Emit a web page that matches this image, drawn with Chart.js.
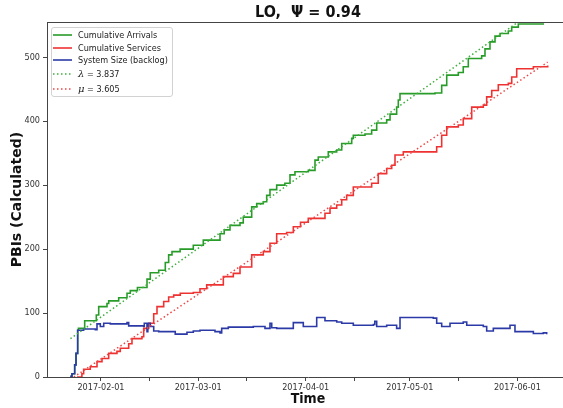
<!DOCTYPE html>
<html>
<head>
<meta charset="utf-8">
<script src="https://cdn.jsdelivr.net/npm/chart.js@4.4.1/dist/chart.umd.min.js"></script>
<style>
  html, body { margin: 0; padding: 0; overflow: hidden; background: #fff; }
  #wrap { position: relative; width: 572px; height: 408px; }
  #legend {
    position: absolute; left: 51px; top: 27px; width: 122px; height: 70px;
    box-sizing: border-box; border: 1px solid #d2d2d2; border-radius: 3px;
    background: rgba(255,255,255,0.85);
    font: 9px "DejaVu Sans Condensed", "DejaVu Sans", sans-serif; color: #222;
  }
  #legend .row { position: absolute; left: 0; height: 12px; width: 120px; }
  #legend svg { position: absolute; left: 1px; top: 0; }
  #legend .lbl { position: absolute; left: 26px; top: 0; line-height: 12px; white-space: nowrap; }
</style>
</head>
<body>
<div id="wrap">
  <canvas id="c"></canvas>
  <div id="legend"></div>
</div>
<script>
// Time is measured in days since 2017-01-01 (fractional days allowed).
const EPOCH = Date.UTC(2017, 0, 1);
const dayOf = s => (Date.parse(s + 'T00:00:00Z') - EPOCH) / 86400000;

// Axis ticks: half-monthly tick marks, labelled on the first of each month
const tickDates = ['2017-02-01', '2017-02-15', '2017-03-01', '2017-03-15', '2017-04-01',
                   '2017-04-15', '2017-05-01', '2017-05-15', '2017-06-01', '2017-06-15'];
const yTicks = [0, 100, 200, 300, 400, 500];

// Cumulative arrivals (step series)
const arrivalDays = [22.15, 22.64, 23.42, 23.8, 24.28, 24.5, 26.3, 29.65, 30.34, 32.73, 33.22, 36.1,
  38.5, 39.44, 41.5, 44.26, 45.2, 47.63, 49.53, 50.5, 51.46, 53.8, 57.6, 60.48, 65.3, 66.5, 68.18,
  71.06, 72.0, 74.43, 75.87, 77.77, 78.75, 79.7, 81.63, 84.0, 85.47, 86.9, 90.74, 92.67, 93.62,
  96.5, 98.93, 100.37, 103.25, 103.71, 107.08, 109.0, 110.45, 113.33, 114.3, 116.2, 116.68,
  117.17, 127.25, 129.18, 130.63, 133.97, 135.4, 136.85, 140.7, 141.66, 143.1, 144.55, 146.0,
  148.38, 149.36, 151.26, 158.46];
const arrivalCounts = [1, 5, 19, 37, 73, 76, 88, 97, 110, 115, 119, 124,
  131, 135, 140, 153, 163, 167, 179, 191, 196, 200, 206, 214, 224, 230, 237,
  241, 250, 266, 271, 274, 284, 293, 300, 303, 316, 321, 323, 339, 344,
  352, 355, 365, 373, 378, 380, 386, 397, 402, 411, 422, 433,
  443, 444, 456, 472, 476, 485, 498, 502, 513, 524, 533, 537,
  541, 547, 552, 553];

// Cumulative services (step series)
const serviceDays = [24.1, 25.5, 26.0, 27.9, 29.85, 31.29, 33.22, 35.6, 36.56, 38.98, 39.93, 42.8,
  43.3, 44.75, 46.19, 47.14, 49.07, 50.5, 51.95, 53.85, 57.6, 59.53, 61.46, 66.25, 69.13, 71.06,
  74.43, 77.77, 79.7, 81.63, 84.5, 86.42, 88.5, 90.74, 95.55, 97.0, 98.93, 100.37, 101.8, 103.71,
  109.0, 110.9, 113.33, 114.78, 115.73, 118.12, 127.74, 129.18, 130.63, 133.97, 135.4, 137.83,
  141.17, 142.15, 143.6, 145.5, 148.38, 149.36, 150.8, 155.6, 159.73];
const serviceCounts = [0, 5, 12, 16, 24, 29, 37, 40, 45, 52, 60, 63,
  76, 84, 99, 110, 118, 125, 128, 131, 132, 138, 144, 157, 162, 172,
  191, 196, 209, 224, 226, 235, 242, 248, 256, 264, 269, 277, 284, 297,
  303, 318, 326, 331, 347, 352, 360, 378, 391, 394, 404, 422,
  425, 438, 448, 457, 459, 469, 482, 485, 487];

// System size (backlog)
const backlogDays = [22.15, 22.64, 23.42, 23.8, 24.28, 26.0, 29.36, 29.85, 30.8, 31.78, 33.68, 38.0,
  38.5, 38.98, 43.3, 43.48, 44.26, 44.5, 45.2, 46.19, 47.63, 51.95, 52.4, 55.78, 57.6, 59.53,
  63.85, 65.3, 65.78, 67.69, 71.06, 74.89, 78.26, 79.7, 80.2, 81.63, 86.42, 89.3, 92.18, 93.16,
  95.55, 98.93, 100.37, 103.71, 109.5, 109.9, 110.45, 113.33, 116.2, 117.17, 126.76, 127.74,
  129.18, 131.58, 135.4, 136.4, 141.17, 142.15, 144.06, 148.87, 150.3, 155.6, 158.46, 159.44];
const backlogSizes = [1, 5, 19, 37, 73, 75, 74, 83, 79, 84, 83, 83,
  85, 80, 79, 84, 71, 84, 79, 72, 71, 71, 67, 70, 72, 73,
  71, 69, 76, 78, 78, 79, 76, 84, 77, 76, 85, 79, 79, 93,
  88, 86, 84, 81, 82, 87, 79, 81, 76, 93, 92, 84,
  79, 84, 86, 81, 79, 72, 76, 81, 71, 68, 69, 67];

// Fitted rates (per day) and the fitted lines' span
const lambdaRate = 3.837;
const muRate = 3.605;
const fitSpan = [22.2, 159.7];
const arrivalFitStart = 60;
const serviceFitStart = -3.5;

const pts = (xs, ys) => xs.map((x, i) => ({ x, y: ys[i] }));
const fitLine = (start, rate) => fitSpan.map(x => ({ x, y: start + rate * (x - fitSpan[0]) }));

const COND = '"DejaVu Sans Condensed", "DejaVu Sans", sans-serif';
const GREEN = '#289c28', RED = '#ee3232', BLUE = '#2b3aa6';
const GREEN_FIT = '#3fae3f', RED_FIT = '#f04646';

const series = [
  { label: 'Cumulative Arrivals', data: pts(arrivalDays, arrivalCounts), color: GREEN, dotted: false, order: 5 },
  { label: 'Cumulative Services', data: pts(serviceDays, serviceCounts), color: RED, dotted: false, order: 4 },
  { label: 'System Size (backlog)', data: pts(backlogDays, backlogSizes), color: BLUE, dotted: false, order: 3 },
  { label: 'λ = ' + lambdaRate.toFixed(3), data: fitLine(arrivalFitStart, lambdaRate), color: GREEN_FIT, dotted: true, order: 2 },
  { label: 'μ = ' + muRate.toFixed(3), data: fitLine(serviceFitStart, muRate), color: RED_FIT, dotted: true, order: 1 }
];

const datasets = series.map(s => ({
  label: s.label, data: s.data, order: s.order,
  borderColor: s.color, borderWidth: s.dotted ? 1.5 : 1.6,
  borderDash: s.dotted ? [1.5, 2.5] : [], stepped: !s.dotted,
  clip: s.dotted ? 0 : undefined,
  pointRadius: 0, fill: false, tension: 0, borderCapStyle: 'butt'
}));

const tickLabel = {};
tickDates.forEach(s => { tickLabel[dayOf(s)] = s.endsWith('-01') ? s : ''; });

// Top spine of the axes frame
const frame = {
  id: 'frame',
  afterDatasetsDraw(chart) {
    const { ctx, chartArea: a } = chart;
    ctx.save();
    ctx.strokeStyle = '#444';
    ctx.lineWidth = 1;
    ctx.beginPath();
    ctx.moveTo(a.left, Math.round(a.top) + 0.5);
    ctx.lineTo(a.right, Math.round(a.top) + 0.5);
    ctx.stroke();
    ctx.restore();
  }
};

new Chart(document.getElementById('c'), {
  type: 'line',
  data: { datasets },
  options: {
    responsive: true, maintainAspectRatio: false, animation: false, devicePixelRatio: 1,
    parsing: false, normalized: true,
    layout: { padding: { right: 3, top: 0, bottom: 0, left: 0 } },
    plugins: {
      legend: { display: false },
      tooltip: { enabled: false },
      title: {
        display: true, text: 'LO,  Ψ = 0.94', fullSize: false, color: '#111',
        font: { family: COND, size: 16, weight: 'bold' }, padding: { top: 3, bottom: 0 }
      }
    },
    scales: {
      x: {
        type: 'linear', min: 15.44, max: 165.87,
        afterBuildTicks: s => { s.ticks = tickDates.map(d => ({ value: dayOf(d) })); },
        afterFit: s => { s.height = 31; },
        ticks: { autoSkip: false, maxRotation: 0, padding: 1, color: '#333',
                 font: { family: COND, size: 9 }, callback: v => tickLabel[v] ?? '' },
        grid: { display: true, drawOnChartArea: false, drawTicks: true, tickLength: 4, tickColor: '#444' },
        border: { display: true, color: '#444', width: 1 },
        title: { display: true, text: 'Time', color: '#111',
                 font: { family: COND, size: 14, weight: 'bold' }, padding: { top: 0, bottom: 0 } }
      },
      y: {
        type: 'linear', min: 0, max: 554.7,
        afterBuildTicks: s => { s.ticks = yTicks.map(v => ({ value: v })); },
        afterFit: s => { s.width = 47; },
        ticks: { padding: 3, color: '#333', font: { family: COND, size: 9 } },
        grid: { display: true, drawOnChartArea: false, drawTicks: true, tickLength: 4, tickColor: '#444' },
        border: { display: true, color: '#444', width: 1 },
        title: { display: true, text: 'PBIs (Calculated)', color: '#111',
                 font: { family: '"DejaVu Sans", sans-serif', size: 14, weight: 'bold' },
                 padding: { top: 9, bottom: 0 } }
      }
    }
  },
  plugins: [frame]
});

// Legend box built from the series definitions
const rowCentres = [7, 19.5, 32, 46, 60.5];
const SVGNS = 'http://www.w3.org/2000/svg';
const legend = document.getElementById('legend');
series.forEach((s, i) => {
  const row = document.createElement('div');
  row.className = 'row';
  row.style.top = (rowCentres[i] - 6) + 'px';
  const svg = document.createElementNS(SVGNS, 'svg');
  svg.setAttribute('width', '20');
  svg.setAttribute('height', '12');
  const ln = document.createElementNS(SVGNS, 'line');
  ln.setAttribute('x1', '0'); ln.setAttribute('x2', '19');
  ln.setAttribute('y1', '6'); ln.setAttribute('y2', '6');
  ln.setAttribute('stroke', s.color);
  ln.setAttribute('stroke-width', s.dotted ? '1.5' : '1.6');
  if (s.dotted) ln.setAttribute('stroke-dasharray', '1.5 2.5');
  svg.appendChild(ln);
  const lbl = document.createElement('div');
  lbl.className = 'lbl';
  lbl.innerHTML = s.label.replace(/([λμ])/g, '<i style="font-family:\'DejaVu Serif\',serif;font-size:10px">$1</i>');
  row.appendChild(svg);
  row.appendChild(lbl);
  legend.appendChild(row);
});
</script>
</body>
</html>
